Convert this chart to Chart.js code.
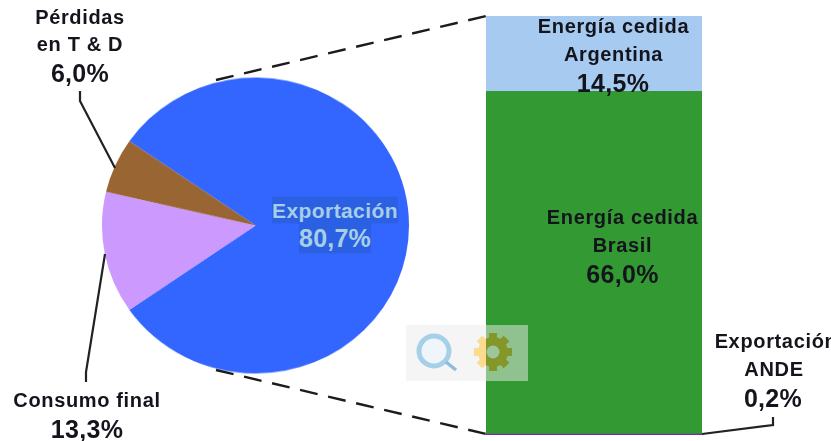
<!DOCTYPE html>
<html><head><meta charset="utf-8">
<script src="https://cdn.jsdelivr.net/npm/chart.js@4"></script>
<style>
html,body{margin:0;padding:0;background:#fff;width:831px;height:441px;overflow:hidden}
canvas{position:absolute}
#wrap{position:relative;width:831px;height:441px;overflow:hidden}
.w{position:absolute}
.t{position:absolute;transform:translate(-50%,-50%);white-space:nowrap;font-family:"Liberation Sans",Arial,sans-serif;font-weight:bold;color:#14141c;line-height:1;font-size:20px;letter-spacing:.65px}
.v{font-size:25px;letter-spacing:.3px}
.in{color:#a6cfe6;background:#2c60e2;padding:3px 0}
svg{position:absolute;left:0;top:0}
</style></head><body>
<div id="wrap">
<div class="w" style="left:101px;top:71px;width:309px;height:309px;transform:scaleY(.964)"><canvas id="pie"></canvas></div>
<div class="w" style="left:486px;top:16px;width:216px;height:419px"><canvas id="bar"></canvas></div>
<svg width="831" height="441" fill="none">
<defs>
<g id="gear">
<g stroke-width="8">
<line x1="-19" y1="0" x2="19" y2="0"/><line x1="0" y1="-19" x2="0" y2="19"/>
<line x1="-13.5" y1="-13.5" x2="13.5" y2="13.5"/><line x1="-13.5" y1="13.5" x2="13.5" y2="-13.5"/>
</g>
</g>
<clipPath id="cl"><rect x="-30" y="-30" width="23" height="60"/></clipPath>
<clipPath id="cr"><rect x="-7" y="-30" width="37" height="60"/></clipPath>
</defs>
<g stroke="#1c1c1c" stroke-width="2.4" stroke-dasharray="18 10.8">
<line x1="216" y1="80" x2="486" y2="16"/>
<line x1="216" y1="370" x2="486" y2="434"/>
</g>
<g stroke="#222" stroke-width="2.2">
<polyline points="80,91 80,101 115,168"/>
<polyline points="105,254 86,372 86,382"/>
<polyline points="702,434 773,425 773,417"/>
</g>
<rect x="406" y="325" width="122" height="56" fill="#ececec" fill-opacity=".5"/>
<circle cx="434" cy="351" r="15" fill="#eef6fb" stroke="#a6cfe8" stroke-width="5"/>
<line x1="446" y1="362" x2="456" y2="370" stroke="#8cbcdc" stroke-width="3.5"/>
<g transform="translate(493,352)">
<g clip-path="url(#cl)" stroke="#fbdc8e" fill="#fbdc8e"><use href="#gear"/><circle r="15" stroke="none"/></g>
<g clip-path="url(#cr)" stroke="#86972a" fill="#86972a"><use href="#gear"/><circle r="15" stroke="none"/></g>
<circle r="6.5" fill="#9cc79c"/>
</g>
</svg>
<div id="labels"></div>
</div>
<script>
const pieLabels = ["Exportación","Consumo final","Pérdidas en T & D"];
const pieValues = [80.7,13.3,6.0];
const pieColors = ["#3366ff","#cc99ff","#996633"];
const barCategory = ["Exportación"];
const barSeriesNames = ["Exportación ANDE","Energía cedida Brasil","Energía cedida Argentina"];
const barValues = [0.2,66.0,14.5];
const barColors = ["#7030a0","#339933","#a6caf0"];
const textLabels = [
 ["Pérdidas",80,17,""],["en T & D",80,44,""],["6,0%",80,73,"v"],
 ["Consumo final",87,400,""],["13,3%",87,429,"v"],
 ["Exportación",335,210,"x"],["80,7%",335,238,"y"],
 ["Energía cedida",613.5,26,""],["Argentina",613.5,54,""],["14,5%",613,83,"v"],
 ["Energía cedida",622.5,217,""],["Brasil",622.5,245,""],["66,0%",622.5,274,"v"],
 ["Exportación",776,341,""],["ANDE",774,369,""],["0,2%",773,398,"v"]
];
const host=document.getElementById("labels");
textLabels.forEach(([s,x,y,c])=>{
 const d=document.createElement("div");
 d.className="t"+(c==="v"?" v":"")+(c==="x"||c==="y"?" in":"");
 d.textContent=s;d.style.left=x+"px";d.style.top=y+"px";
 if(c==="x"){d.style.fontSize="21px";d.style.letterSpacing=".4px";}
 if(c==="y"){d.style.fontSize="25px";d.style.letterSpacing=".2px";}
 host.appendChild(d);
});
Chart.defaults.animation=false;
new Chart(document.getElementById("pie"),{type:"pie",
 data:{labels:pieLabels,datasets:[{data:pieValues,backgroundColor:pieColors,borderWidth:0}]},
 options:{responsive:true,maintainAspectRatio:false,rotation:-55.26,layout:{padding:1},
  plugins:{legend:{display:false},tooltip:{enabled:false}}}});
new Chart(document.getElementById("bar"),{type:"bar",
 data:{labels:barCategory,datasets:barSeriesNames.map((n,i)=>({label:n,data:[barValues[i]],backgroundColor:barColors[i],borderWidth:0,barPercentage:1,categoryPercentage:1}))},
 options:{responsive:true,maintainAspectRatio:false,layout:{padding:0},
  scales:{x:{stacked:true,display:false},y:{stacked:true,display:false,min:0,max:80.7}},
  plugins:{legend:{display:false},tooltip:{enabled:false}}}});
</script>
</body></html>
